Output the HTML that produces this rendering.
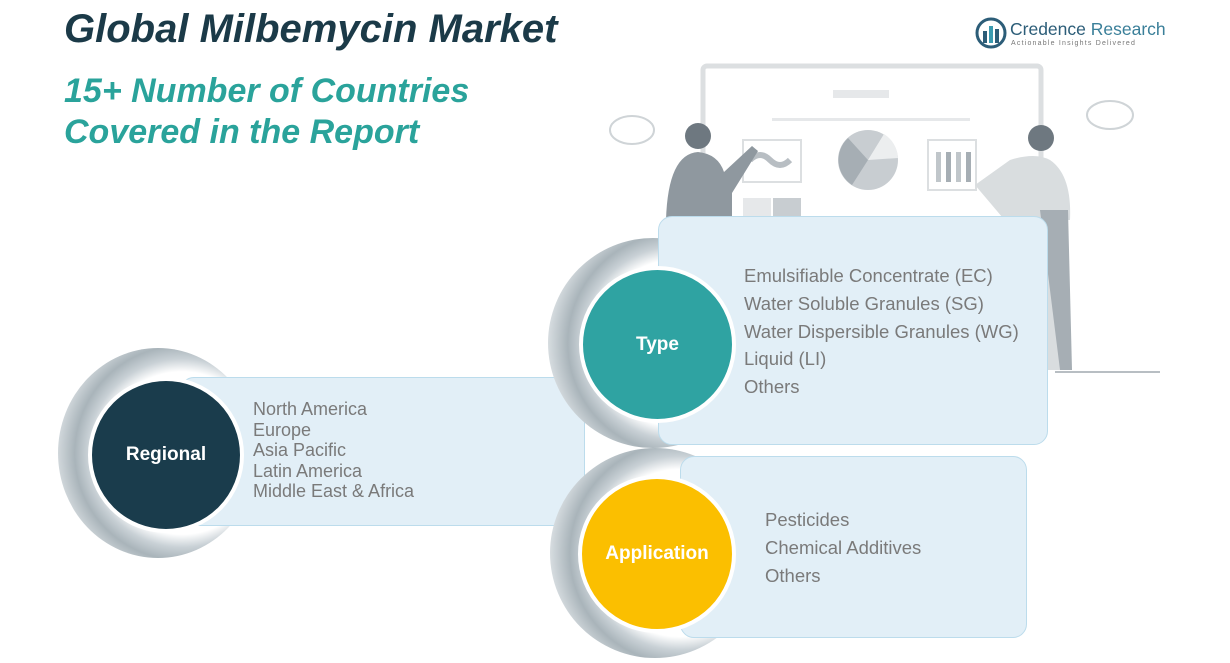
<!DOCTYPE html>
<html><head><meta charset="utf-8"><style>
*{margin:0;padding:0;box-sizing:border-box}
body{width:1230px;height:663px;background:#fff;position:relative;overflow:hidden;font-family:"Liberation Sans",sans-serif}
.abs{position:absolute}
.t1{left:64px;top:7px;font-size:40px;font-weight:bold;font-style:italic;color:#1b3a48}
.t2{left:64px;top:71px;font-size:34px;font-weight:bold;font-style:italic;color:#2aa39b;line-height:41px}
.box{background:#e2eff7;border:1.5px solid #bcdcec;border-radius:14px}
.ring{border-radius:50%;background:radial-gradient(circle at 62% 50%,#fff 0,#fff 50%,#c9d1d6 58%,#a9b4ba 66%,#dfe4e7 80%,rgba(255,255,255,0) 98%)}
.c{border-radius:50%;border:4px solid #fff;color:#fff;font-weight:bold;font-size:19px;display:flex;align-items:center;justify-content:center}
.list{color:#7a7a7a;font-size:18.5px}
</style></head><body>
<div class="abs t1">Global Milbemycin Market</div>
<div class="abs t2">15+ Number of Countries<br>Covered in the Report</div>
<svg class="abs" style="left:975px;top:17px" width="36" height="32"><circle cx="16" cy="16" r="14" fill="none" stroke="#2c5d78" stroke-width="3"/><rect x="8" y="14" width="4" height="12" fill="#2c5d78"/><rect x="14" y="9" width="4" height="17" fill="#3a9bb0"/><rect x="20" y="12" width="4" height="14" fill="#2c5d78"/></svg>
<div class="abs" style="left:1010px;top:19px;font-size:17.5px;color:#2c5d78">Credence <span style="color:#3a7f99">Research</span></div>
<div class="abs" style="left:1011px;top:40px;font-size:7px;color:#777;letter-spacing:1.2px">Actionable Insights Delivered</div>
<svg class="abs" style="left:600px;top:60px" width="580" height="320">
<rect x="103" y="6" width="338" height="300" fill="#fff" stroke="#dcdfe1" stroke-width="5" rx="4"/>
<rect x="233" y="30" width="56" height="8" fill="#e6e8ea"/><rect x="172" y="58" width="198" height="3" fill="#e6e8ea"/>
<rect x="143" y="80" width="58" height="42" fill="none" stroke="#dcdfe1" stroke-width="2"/>
<path d="M150 100 q10 -10 20 0 t20 0" stroke="#b8bec3" stroke-width="6" fill="none"/>
<circle cx="268" cy="100" r="30" fill="#c8cdd1"/><path d="M268 100 L284 74 A30 30 0 0 1 298 98 Z" fill="#eceeef"/><path d="M268 100 L252 125 A30 30 0 0 1 248 78 Z" fill="#a6aeb4"/>
<rect x="328" y="80" width="48" height="50" fill="none" stroke="#dcdfe1" stroke-width="2"/>
<rect x="336" y="92" width="5" height="30" fill="#c0c6ca"/><rect x="346" y="92" width="5" height="30" fill="#a6aeb4"/><rect x="356" y="92" width="5" height="30" fill="#c0c6ca"/><rect x="366" y="92" width="5" height="30" fill="#a6aeb4"/>
<rect x="143" y="138" width="28" height="20" fill="#e6e8ea"/><rect x="173" y="138" width="28" height="20" fill="#c8cdd1"/>
<circle cx="98" cy="76" r="13" fill="#6e7880"/><path d="M66 160 q2 -66 32 -68 q20 2 26 20 l28 -26 l6 5 l-26 42 l0 40 z" fill="#8f989f"/>
<circle cx="441" cy="78" r="13" fill="#6e7880"/><path d="M375 125 l35 -25 q25 -8 40 0 q22 15 20 60 l-8 0 l0 150 l-30 0 l-2 -120 z" fill="#d9dddf"/>
<path d="M440 150 l28 0 l4 160 l-12 0 z" fill="#a6aeb4"/>
<line x1="455" y1="312" x2="560" y2="312" stroke="#b8bec3" stroke-width="2"/>
<g fill="none" stroke="#cfd4d7" stroke-width="2"><ellipse cx="32" cy="70" rx="22" ry="14"/><ellipse cx="510" cy="55" rx="23" ry="14"/></g>
</svg>
<div class="abs ring" style="left:58px;top:348px;width:200px;height:210px"></div>
<div class="abs box" style="left:180px;top:377px;width:405px;height:149px"></div>
<div class="abs c" style="left:88px;top:377px;width:156px;height:156px;background:#1a3c4c">Regional</div>
<div class="abs list" style="left:253px;top:399px;font-size:18px;line-height:20.5px">North America<br>Europe<br>Asia Pacific<br>Latin America<br>Middle East &amp; Africa</div>
<div class="abs ring" style="left:548px;top:238px;width:210px;height:210px"></div>
<div class="abs box" style="left:658px;top:216px;width:390px;height:229px"></div>
<div class="abs c" style="left:579px;top:266px;width:157px;height:157px;background:#2fa3a2">Type</div>
<div class="abs list" style="left:744px;top:262px;line-height:27.8px">Emulsifiable Concentrate (EC)<br>Water Soluble Granules (SG)<br>Water Dispersible Granules (WG)<br>Liquid (LI)<br>Others</div>
<div class="abs ring" style="left:550px;top:448px;width:210px;height:210px"></div>
<div class="abs box" style="left:680px;top:456px;width:347px;height:182px"></div>
<div class="abs c" style="left:578px;top:475px;width:158px;height:158px;background:#fbbf00">Application</div>
<div class="abs list" style="left:765px;top:506px;line-height:28px">Pesticides<br>Chemical Additives<br>Others</div>
</body></html>
